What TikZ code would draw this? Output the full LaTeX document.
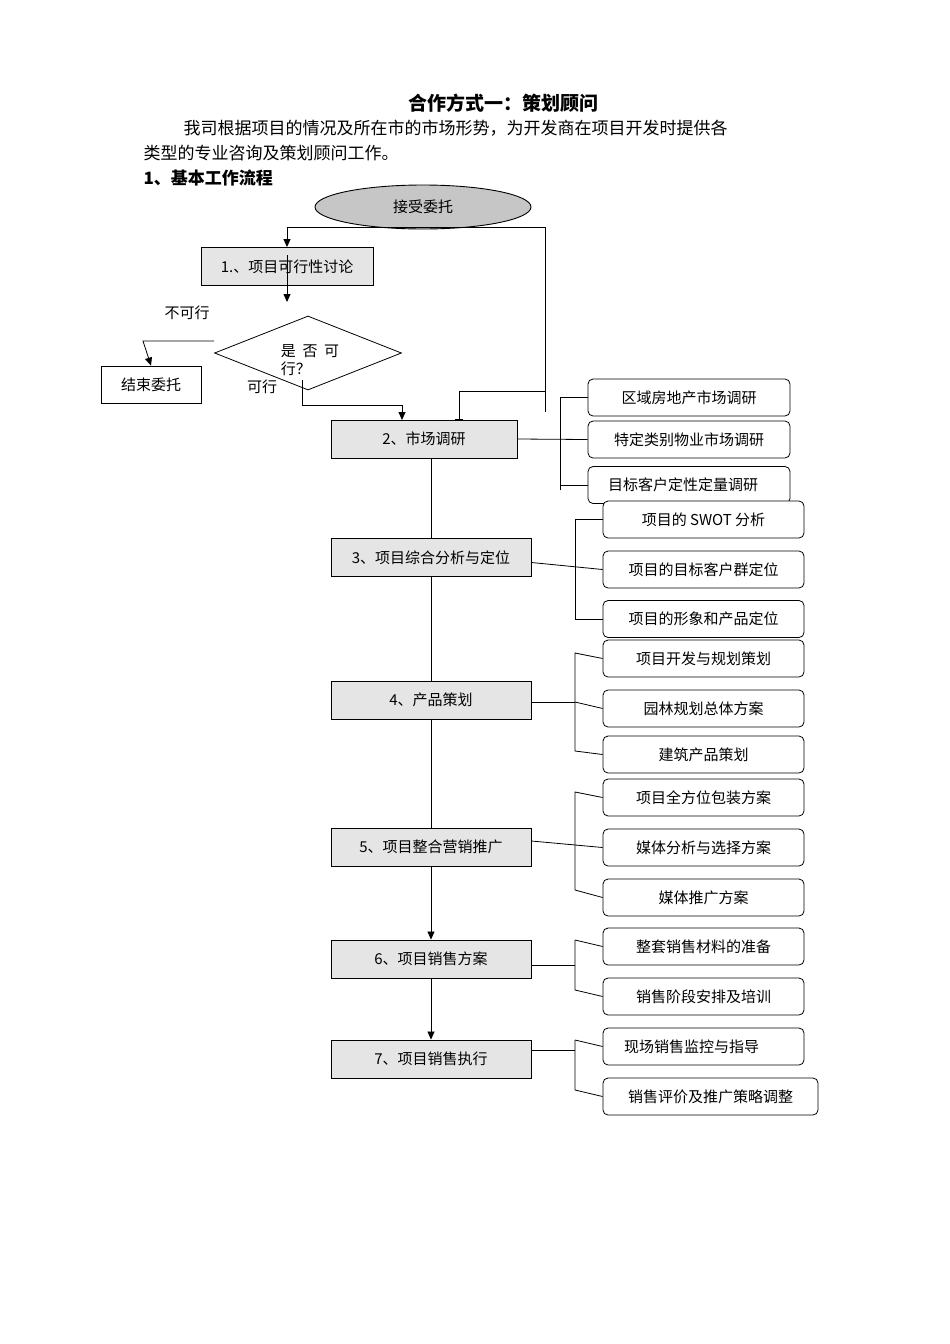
\documentclass[tikz,border=0pt]{standalone}
\usepackage{fontspec}
\setmainfont{Noto Sans CJK SC}
\usetikzlibrary{shapes.geometric,arrows.meta}
\begin{document}
\begin{tikzpicture}[x=1pt,y=-1pt,font=\fontsize{15}{18}\selectfont,
  box/.style={draw,fill=gray!20,line width=0.9pt,minimum height=38pt,inner sep=0pt},
  sub/.style={draw,rounded corners=5pt,line width=0.8pt,fill=white,minimum height=37pt,inner sep=0pt},
  ln/.style={line width=0.8pt},
  arr/.style={ln,-{Triangle[length=8pt,width=7pt]}},
  tee/.style={ln,-{Bar[width=8pt]}}]
\useasboundingbox (0,0) rectangle (950,1344);
\node[font=\fontsize{19}{22}\selectfont\bfseries] (title) at (503,103) {合作方式一：策划顾问};
\node[anchor=west,font=\fontsize{17}{20}\selectfont] (p1) at (180,128) {我司根据项目的情况及所在市的市场形势，为开发商在项目开发时提供各};
\node[anchor=west,font=\fontsize{17}{20}\selectfont] (p2) at (140,153) {类型的专业咨询及策划顾问工作。};
\node[anchor=west,font=\fontsize{17}{20}\selectfont\bfseries] (h1) at (140,178) {1、基本工作流程};

\node[ellipse,draw,fill=gray!45,line width=0.9pt,minimum width=216pt,minimum height=44pt] (start) at (423,207) {接受委托};
\node[box,minimum width=172pt] (b1) at (287,266.5) {1.、项目可行性讨论};
\node[diamond,draw,line width=0.8pt,minimum width=187pt,minimum height=74pt,aspect=2.5,inner sep=0pt] (dec) at (308,353) {};
\node[align=left] (dect) at (310,360) {是\ \ 否\ \ 可\\行？};
\node (no) at (187,313) {不可行};
\node (yes) at (262,387) {可行};
\node[draw,line width=0.8pt,minimum width=100pt,minimum height=37pt,inner sep=0pt] (end) at (151,384.5) {结束委托};
\node[box,minimum width=186pt] (b2) at (424,439) {2、市场调研};
\node[box,minimum width=200pt] (b3) at (431,557.5) {3、项目综合分析与定位};
\node[box,minimum width=200pt] (b4) at (431,700) {4、产品策划};
\node[box,minimum width=200pt] (b5) at (431,847) {5、项目整合营销推广};
\node[box,minimum width=200pt] (b6) at (431,959) {6、项目销售方案};
\node[box,minimum width=200pt] (b7) at (431,1059) {7、项目销售执行};

\node[sub,minimum width=202pt] (s21) at (689,397.5) {区域房地产市场调研};
\node[sub,minimum width=202pt] (s22) at (689,439.5) {特定类别物业市场调研};
\node[sub,minimum width=202pt] (s23) at (689,485) {\hspace*{-12pt}目标客户定性定量调研};
\node[sub,minimum width=201pt] (s31) at (703.5,519.5) {项目的 SWOT 分析};
\node[sub,minimum width=201pt] (s32) at (703.5,569.5) {项目的目标客户群定位};
\node[sub,minimum width=201pt] (s33) at (703.5,619) {项目的形象和产品定位};
\node[sub,minimum width=201pt] (s41) at (703.5,658.5) {项目开发与规划策划};
\node[sub,minimum width=201pt] (s42) at (703.5,708.5) {园林规划总体方案};
\node[sub,minimum width=201pt] (s43) at (703.5,754.5) {建筑产品策划};
\node[sub,minimum width=201pt] (s51) at (703.5,797.5) {项目全方位包装方案};
\node[sub,minimum width=201pt] (s52) at (703.5,847.5) {媒体分析与选择方案};
\node[sub,minimum width=201pt] (s53) at (703.5,897.5) {媒体推广方案};
\node[sub,minimum width=201pt] (s61) at (703.5,946.5) {整套销售材料的准备};
\node[sub,minimum width=201pt] (s62) at (703.5,996.5) {销售阶段安排及培训};
\node[sub,minimum width=201pt] (s71) at (703.5,1046.5) {\hspace*{-24pt}现场销售监控与指导};
\node[sub,minimum width=215pt] (s72) at (710.5,1096.5) {销售评价及推广策略调整};

\coordinate (r1) at (545,227);
\coordinate (r2) at (545,412);
\draw[ln] (start.south east) ++(0,0);
\draw[arr] (r1) -| (b1.north);
\draw[ln] (r1) -- (r2);
\draw[tee] (545,391) -| (459,420);
\draw[arr] (287,255) -- (287,302);
\draw[arr] (dec.west) ++(0,-12) -- (143,341) -- (end.north);
\draw[arr] (302,386) -- (302,405) -| (402,420);
\draw[ln] (302,380) -- (302,386);

\draw[ln] (b2.south) ++(7,0) coordinate (sp);
\draw[ln] (431,458) -- (b3.north);
\draw[ln] (b3.south) -- (b4.north);
\draw[ln] (b4.south) -- (b5.north);
\draw[arr] (b5.south) -- (b6.north);
\draw[arr] (b6.south) -- (b7.north);

\draw[ln] (b2.east) -- (s22.west);
\draw[ln] (560,490) -- (560,397.5) -- (s21.west);
\draw[ln] (560,485) -- (s23.west);
\draw[ln] (b3.east) ++(0,5) -- (s32.west);
\draw[ln] (s31.west) -- (575,519.5) -- (575,619) -- (s33.west);
\draw[ln] (b4.east) ++(0,2) -- (575,702);
\draw[ln] (s41.west) -- (575,653) -- (575,751) -- (s43.west);
\draw[ln] (575,702) -- (s42.west);
\draw[ln] (b5.east) ++(0,-6) -- (s52.west);
\draw[ln] (s51.west) -- (575,792) -- (575,890) -- (s53.west);
\draw[ln] (b6.east) ++(0,6) -- (575,965);
\draw[ln] (575,940) -- (s61.west);
\draw[ln] (575,940) -- (575,990) -- (s62.west);
\draw[ln] (b7.east) ++(0,-9) -- (575,1050);
\draw[ln] (575,1040) -- (s71.west);
\draw[ln] (575,1040) -- (575,1090) -- (s72.west);
\end{tikzpicture}
\end{document}
